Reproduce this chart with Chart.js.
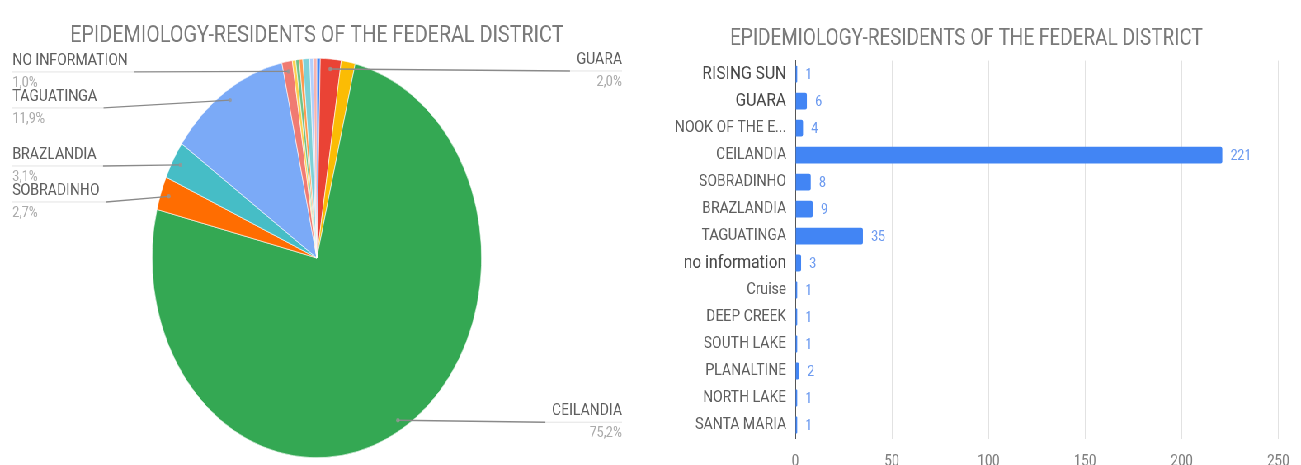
<!DOCTYPE html>
<html>
<head>
<meta charset="utf-8">
<script src="https://cdn.jsdelivr.net/npm/chart.js@4.4.0/dist/chart.umd.min.js"></script>
<style>
  html, body { margin: 0; padding: 0; background: #fff; overflow: hidden; }
  /* os dois gráficos ficam lado a lado, comprimidos na horizontal */
  #painel { width: 1577px; height: 465px; display: flex; transform: scaleX(0.825); transform-origin: 0 0; }
  canvas { display: block; }
</style>
</head>
<body>
<div id="painel">
  <canvas id="graficoPizza" width="788" height="465"></canvas>
  <canvas id="graficoBarras" width="789" height="465"></canvas>
</div>
<script>
  const titulo = "EPIDEMIOLOGY-RESIDENTS OF THE FEDERAL DISTRICT";

  const regioes = ["RISING SUN", "GUARA", "NOOK OF THE E...", "CEILANDIA", "SOBRADINHO", "BRAZLANDIA",
    "TAGUATINGA", "no information", "Cruise", "DEEP CREEK", "SOUTH LAKE", "PLANALTINE", "NORTH LAKE", "SANTA MARIA"];
  const nomesPizza = ["RISING SUN", "GUARA", "NOOK OF THE EMBAUBA", "CEILANDIA", "SOBRADINHO", "BRAZLANDIA",
    "TAGUATINGA", "NO INFORMATION", "CRUISE", "DEEP CREEK", "SOUTH LAKE", "PLANALTINE", "NORTH LAKE", "SANTA MARIA"];
  const casos = [1, 6, 4, 221, 8, 9, 35, 3, 1, 1, 1, 2, 1, 1];
  const coresPizza = ["#4285f4", "#ea4335", "#fbbc04", "#34a853", "#ff6d01", "#46bdc6", "#7baaf7",
    "#f07b72", "#fcd04f", "#71c287", "#ff994d", "#7ed1d7", "#b3cefb", "#f7b4ae"];
  // só essas fatias recebem rótulo com linha
  const fatiasComRotulo = ["GUARA", "CEILANDIA", "SOBRADINHO", "BRAZLANDIA", "TAGUATINGA", "NO INFORMATION"];
  const ticksX = [0, 50, 100, 150, 200, 250];

  const fonte = "Roboto, 'Liberation Sans', sans-serif";
  const total = casos.reduce((a, b) => a + b, 0);

  function porcentagem(v) {
    return (v / total * 100).toFixed(1).replace(".", ",") + "%";
  }

  // rótulos estilo planilha: nome, porcentagem e linha até a fatia
  const rotulosFatia = {
    id: "rotulosFatia",
    afterDatasetsDraw(chart) {
      const ctx = chart.ctx;
      const arcos = chart.getDatasetMeta(0).data;
      const lados = { esq: [], dir: [] };

      arcos.forEach((arco, i) => {
        if (!fatiasComRotulo.includes(nomesPizza[i])) return;
        const meio = (arco.startAngle + arco.endAngle) / 2;
        const r = arco.outerRadius * 0.95;
        const ax = arco.x + Math.cos(meio) * r;
        const ay = arco.y + Math.sin(meio) * r;
        (ax < arco.x ? lados.esq : lados.dir).push({ i, ax, ay, y: ay });
      });

      // afasta rótulos que ficariam muito juntos
      Object.values(lados).forEach(lista => {
        lista.sort((a, b) => a.y - b.y);
        for (let k = 0; k < 40; k++) {
          for (let j = 1; j < lista.length; j++) {
            const gap = lista[j].y - lista[j - 1].y;
            if (gap < 36) {
              const d = (36 - gap) / 2;
              lista[j - 1].y -= d * 0.4;
              lista[j].y += d * 1.6;
            }
          }
        }
      });

      ctx.save();
      ctx.textBaseline = "middle";
      const desenha = (item, esquerda) => {
        ctx.font = "17px " + fonte;
        const nome = nomesPizza[item.i];
        const largura = ctx.measureText(nome).width;
        const x0 = esquerda ? 15 : chart.width - 34;
        const fimTexto = esquerda ? x0 + largura + 8 : x0 - largura - 8;
        const yl = item.y + 2;

        // sublinhado claro sob o nome
        ctx.strokeStyle = "#e3e3e3";
        ctx.lineWidth = 1;
        ctx.beginPath();
        ctx.moveTo(x0, yl);
        ctx.lineTo(fimTexto, yl);
        ctx.stroke();

        // linha até a fatia
        ctx.strokeStyle = "#8a8a8a";
        ctx.lineWidth = 1.3;
        ctx.beginPath();
        ctx.moveTo(fimTexto, yl);
        ctx.lineTo(item.ax, item.ay);
        ctx.stroke();

        ctx.fillStyle = "rgba(150,150,150,0.8)";
        ctx.beginPath();
        ctx.arc(item.ax, item.ay, 2.2, 0, Math.PI * 2);
        ctx.fill();

        ctx.textAlign = esquerda ? "left" : "right";
        ctx.fillStyle = "#5f5f5f";
        ctx.fillText(nome, x0, yl - 11);
        ctx.font = "15px " + fonte;
        ctx.fillStyle = "#ababab";
        ctx.fillText(porcentagem(casos[item.i]), x0, yl + 11);
      };
      lados.esq.forEach(it => desenha(it, true));
      lados.dir.forEach(it => desenha(it, false));
      ctx.restore();
    }
  };

  // valor escrito logo depois de cada barra
  const valoresBarra = {
    id: "valoresBarra",
    afterDatasetsDraw(chart) {
      const ctx = chart.ctx;
      ctx.save();
      ctx.font = "15px " + fonte;
      ctx.fillStyle = "#6d9bf0";
      ctx.textAlign = "left";
      ctx.textBaseline = "middle";
      chart.getDatasetMeta(0).data.forEach((barra, i) => {
        ctx.fillText(casos[i], barra.x + 10, barra.y + 1);
      });
      ctx.restore();
    }
  };

  new Chart(document.getElementById("graficoPizza"), {
    type: "pie",
    data: {
      labels: nomesPizza,
      datasets: [{
        data: casos,
        backgroundColor: coresPizza,
        borderColor: "#ffffff",
        borderWidth: 0.6
      }]
    },
    options: {
      responsive: false,
      animation: false,
      rotation: 0,
      layout: { padding: { top: 8.2, bottom: 7, left: 0, right: 20 } },
      plugins: {
        legend: { display: false },
        tooltip: { enabled: false },
        title: {
          display: true,
          text: titulo,
          color: "#7a7a7a",
          font: { family: fonte, size: 24, weight: "normal" },
          padding: { top: 13, bottom: 8 }
        }
      }
    },
    plugins: [rotulosFatia]
  });

  const maiores = [0, 1, 7];

  new Chart(document.getElementById("graficoBarras"), {
    type: "bar",
    data: {
      labels: regioes,
      datasets: [{
        data: casos,
        backgroundColor: "#4285f4",
        borderRadius: 2,
        categoryPercentage: 0.8,
        barPercentage: 0.78
      }]
    },
    options: {
      indexAxis: "y",
      responsive: false,
      animation: false,
      layout: { padding: { top: 12, bottom: 0, left: 0, right: 22 } },
      scales: {
        x: {
          min: 0,
          max: 250,
          afterBuildTicks: scale => { scale.ticks = ticksX.map(v => ({ value: v })); },
          afterFit: scale => { scale.height = 26.5; },
          grid: { color: "#e2e2e2", drawTicks: false },
          border: { display: false },
          ticks: {
            color: "#808080",
            padding: 14,
            font: { family: fonte, size: 16 }
          }
        },
        y: {
          afterFit: scale => { scale.width = 176; },
          grid: { display: false, drawTicks: false },
          border: { color: "#555555", width: 1 },
          ticks: {
            padding: 11,
            color: c => maiores.includes(c.index) ? "#4a4a4a" : "#5f5f5f",
            font: c => ({ family: fonte, size: maiores.includes(c.index) ? 19 : 17 })
          }
        }
      },
      plugins: {
        legend: { display: false },
        tooltip: { enabled: false },
        title: {
          display: true,
          text: titulo,
          color: "#7a7a7a",
          font: { family: fonte, size: 23, weight: "normal" },
          padding: { top: 13, bottom: 8 }
        }
      }
    },
    plugins: [valoresBarra]
  });
</script>
</body>
</html>
